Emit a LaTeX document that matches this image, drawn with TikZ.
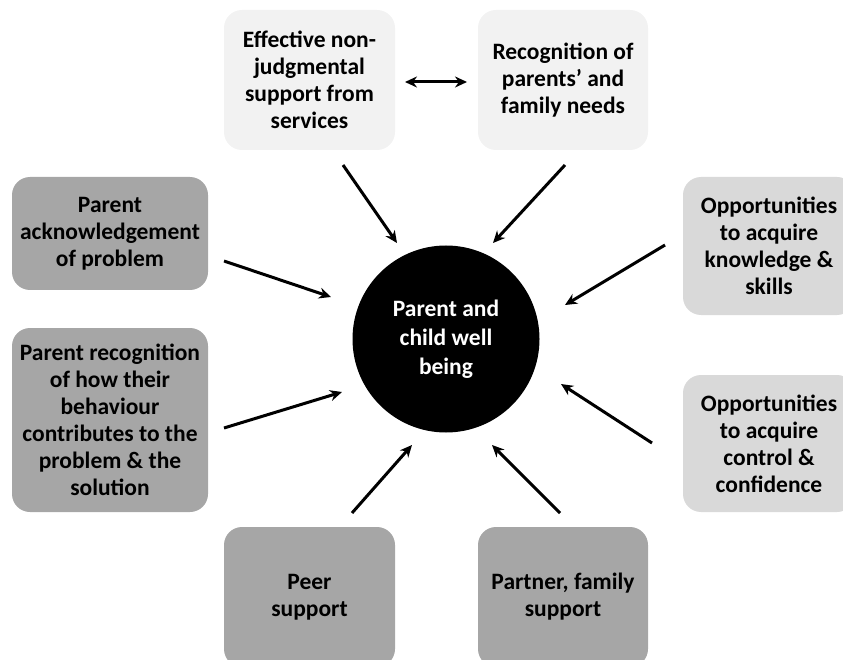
\documentclass[tikz,border=0pt]{standalone}
\usepackage{fontspec}
\setmainfont{Carlito}
\usetikzlibrary{arrows.meta}
\definecolor{boxlight}{HTML}{F2F2F2}
\definecolor{boxmid}{HTML}{D9D9D9}
\definecolor{boxdark}{HTML}{A6A6A6}
\begin{document}
\begin{tikzpicture}[x=1pt,y=-1pt,
  box/.style={rounded corners=18pt, font=\bfseries\fontsize{23.5}{27}\selectfont,
    align=center, text=black, inner sep=0pt, draw=none},
  lightbox/.style={box, fill=boxlight},
  midbox/.style={box, fill=boxmid},
  darkbox/.style={box, fill=boxdark},
  hub/.style={circle, fill=black, text=white, minimum size=187pt, inner sep=0pt,
    align=center, font=\bfseries\fontsize{23.5}{29}\selectfont},
  conn/.style={line width=3pt, -{Stealth[length=12pt,width=11pt]}},
  biconn/.style={line width=3pt, {Stealth[length=12pt,width=11pt]}-{Stealth[length=12pt,width=11pt]}}
]
\useasboundingbox (0,0) rectangle (843,660);
\clip (0,0) rectangle (843,660);

\node[lightbox, minimum width=171pt, minimum height=140pt] (eff) at (309.5,80)
  {Effective non-\\judgmental\\support from\\services};
\node[lightbox, minimum width=170pt, minimum height=140pt] (rec) at (563,80)
  {Recognition of\\parents' and\\family needs};
\node[darkbox, minimum width=196pt, minimum height=113pt] (ack) at (110,233.5)
  {Parent\\acknowledgement\\of problem};
\node[darkbox, minimum width=196pt, minimum height=184pt] (beh) at (110,420)
  {Parent recognition\\of how their\\behaviour\\contributes to the\\problem \& the\\solution};
\node[midbox, minimum width=172pt, minimum height=138pt] (know) at (769,246)
  {Opportunities\\to acquire\\knowledge \&\\skills};
\node[midbox, minimum width=172pt, minimum height=137pt] (ctrl) at (769,443.5)
  {Opportunities\\to acquire\\control \&\\confidence};
\node[darkbox, minimum width=171pt, minimum height=140pt] (peer) at (309.5,597)
  {Peer\\support};
\node[darkbox, minimum width=170pt, minimum height=140pt] (fam) at (563,597)
  {Partner, family\\support};

\node[hub] (well) at (446,339) {Parent and\\child well\\being};

% arrow end points
\coordinate (d1) at (405,82);
\coordinate (d2) at (467,82);
\coordinate (a1s) at (343,165); \coordinate (a1e) at (397,243);
\coordinate (a2s) at (565,165); \coordinate (a2e) at (493,243);
\coordinate (a3s) at (224,261); \coordinate (a3e) at (331,297);
\coordinate (a4s) at (224,428); \coordinate (a4e) at (342,392);
\coordinate (a5s) at (665,245); \coordinate (a5e) at (565,305);
\coordinate (a6s) at (652,443); \coordinate (a6e) at (561,384);
\coordinate (a7s) at (352,513); \coordinate (a7e) at (412,445);
\coordinate (a8s) at (560,513); \coordinate (a8e) at (492,445);

\draw[biconn] (d1) -- (d2);
\draw[conn] (a1s) -- (a1e);
\draw[conn] (a2s) -- (a2e);
\draw[conn] (a3s) -- (a3e);
\draw[conn] (a4s) -- (a4e);
\draw[conn] (a5s) -- (a5e);
\draw[conn] (a6s) -- (a6e);
\draw[conn] (a7s) -- (a7e);
\draw[conn] (a8s) -- (a8e);
\end{tikzpicture}
\end{document}
